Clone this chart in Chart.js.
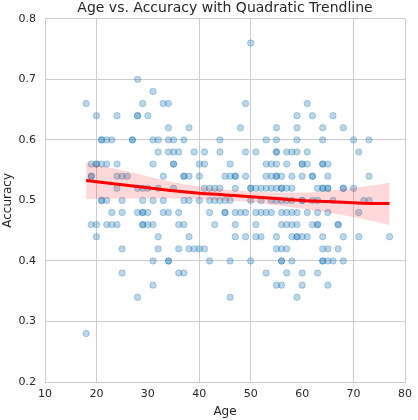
<!DOCTYPE html>
<html>
<head>
<meta charset="utf-8">
<script src="https://cdn.jsdelivr.net/npm/chart.js@4/dist/chart.umd.min.js"></script>
<style>
  html, body { margin: 0; padding: 0; background: #ffffff; }
  #wrap { width: 418px; height: 420px; }
</style>
</head>
<body>
<div id="wrap"><canvas id="c" width="418" height="420"></canvas></div>
<script>
// ---- data ----
const accuracyLevels = [0.76, 0.70, 0.68, 0.66, 0.64, 0.62, 0.60, 0.58, 0.56, 0.54, 0.52, 0.50, 0.48, 0.46, 0.44, 0.42, 0.40, 0.38, 0.36, 0.34, 0.28];
const agesAtLevel = [
  [50],
  [28],
  [31],
  [18, 29, 33, 34, 49, 61],
  [20, 24, 28, 28, 30, 59, 62, 66],
  [34, 38, 48, 55, 59, 64, 68],
  [21, 21, 22, 23, 27, 27, 31, 32, 34, 35, 37, 44, 53, 55, 59, 64, 70, 73],
  [32, 34, 35, 36, 39, 41, 44, 49, 51, 55, 55, 57, 58, 59, 61, 71],
  [19, 20, 20, 21, 22, 24, 31, 35, 35, 40, 41, 46, 53, 54, 55, 57, 60, 60, 61, 64, 64, 65],
  [19, 19, 24, 25, 26, 33, 37, 37, 38, 40, 45, 46, 47, 47, 49, 53, 54, 55, 55, 56, 58, 60, 62, 62, 65, 73],
  [24, 28, 29, 30, 32, 35, 41, 42, 43, 44, 47, 50, 50, 51, 52, 53, 54, 55, 56, 56, 57, 58, 63, 64, 64, 65, 65, 68, 68, 70],
  [21, 21, 22, 25, 29, 31, 33, 37, 38, 40, 42, 43, 44, 45, 46, 50, 52, 54, 55, 56, 57, 58, 60, 60, 62, 63, 66, 72, 73],
  [23, 25, 28, 29, 29, 30, 33, 34, 36, 42, 45, 45, 47, 48, 49, 51, 52, 53, 54, 56, 57, 58, 59, 61, 63, 65, 71],
  [19, 20, 22, 23, 24, 29, 29, 30, 31, 36, 37, 43, 47, 51, 56, 57, 58, 59, 62, 63, 63, 67, 67],
  [20, 32, 38, 47, 49, 51, 52, 55, 58, 59, 59, 60, 61, 64, 68, 71, 77],
  [25, 32, 36, 38, 39, 40, 41, 55, 56, 57, 64, 65, 67],
  [31, 34, 34, 42, 46, 50, 56, 56, 58, 64, 64, 65, 66, 68],
  [25, 36, 37, 53, 57, 60, 63],
  [31, 55, 56, 60, 65],
  [28, 46, 59],
  [18]
];

const trendAges = [18, 25, 30, 35, 40, 45, 50, 55, 60, 65, 70, 74, 77];
const trendFit  = [0.533, 0.526, 0.521, 0.516, 0.512, 0.509, 0.506, 0.503, 0.500, 0.498, 0.496, 0.495, 0.495];
const bandHigh  = [0.563, 0.550, 0.540, 0.530, 0.523, 0.518, 0.515, 0.513, 0.513, 0.516, 0.521, 0.525, 0.529];
const bandLow   = [0.502, 0.503, 0.503, 0.503, 0.502, 0.500, 0.497, 0.492, 0.486, 0.480, 0.472, 0.465, 0.459];

const xTicks = [10, 20, 30, 40, 50, 60, 70, 80];
const yTicks = [0.2, 0.3, 0.4, 0.5, 0.6, 0.7, 0.8];
const xGridHidden = [30, 60];
const yGridHidden = [0.5];

// ---- build library datasets ----
const scatterPoints = [];
accuracyLevels.forEach((acc, i) => {
  agesAtLevel[i].forEach(a => scatterPoints.push({ x: a, y: acc }));
});
const toXY = (arr) => trendAges.map((a, i) => ({ x: a, y: arr[i] }));

const FONT = "'DejaVu Sans', sans-serif";
const TXT = '#262626';
const GRID = '#cccccc';

// centre the title over the plotting area (as in the reference)
const titleOverArea = {
  id: 'titleOverArea',
  afterLayout(chart) {
    if (chart.titleBlock) {
      chart.titleBlock.left = chart.chartArea.left;
      chart.titleBlock.right = chart.chartArea.right;
      chart.titleBlock.width = chart.chartArea.right - chart.chartArea.left;
    }
  }
};

new Chart(document.getElementById('c'), {
  type: 'scatter',
  plugins: [titleOverArea],
  data: {
    datasets: [
      {
        type: 'line', data: toXY(trendFit), order: 0,
        borderColor: '#ff0000', borderWidth: 3, pointRadius: 0,
        cubicInterpolationMode: 'monotone', fill: false
      },
      {
        type: 'line', data: toXY(bandLow), order: 1,
        borderWidth: 0, borderColor: 'rgba(0,0,0,0)', pointRadius: 0,
        cubicInterpolationMode: 'monotone', fill: false
      },
      {
        type: 'line', data: toXY(bandHigh), order: 1,
        borderWidth: 0, borderColor: 'rgba(0,0,0,0)', pointRadius: 0,
        cubicInterpolationMode: 'monotone', fill: '-1',
        backgroundColor: 'rgba(255,0,0,0.15)'
      },
      {
        data: scatterPoints, order: 3,
        pointRadius: 3.2, borderWidth: 1,
        backgroundColor: 'rgba(31,119,180,0.3)',
        borderColor: 'rgba(31,119,180,0.3)'
      }
    ]
  },
  options: {
    responsive: false,
    animation: false,
    devicePixelRatio: 1,
    layout: { padding: { left: 0, right: 7, top: 0, bottom: 0 } },
    plugins: {
      legend: { display: false },
      tooltip: { enabled: false },
      title: {
        display: true,
        text: 'Age vs. Accuracy with Quadratic Trendline',
        color: TXT,
        font: { family: FONT, size: 14, weight: 'normal', lineHeight: 1.2 },
        padding: { top: 0, bottom: 2 }
      }
    },
    scales: {
      x: {
        type: 'linear', min: 10, max: 80,
        afterBuildTicks: (s) => { s.ticks = xTicks.map(v => ({ value: v })); },
        afterFit: (s) => { s.height = 38; },
        ticks: { color: TXT, font: { family: FONT, size: 11 }, padding: 6, maxRotation: 0,
                 callback: (v) => String(v) },
        grid: {
          drawTicks: false, lineWidth: 1,
          color: (ctx) => (ctx.tick && xGridHidden.includes(ctx.tick.value)) ? 'rgba(0,0,0,0)' : GRID
        },
        border: { display: true, color: GRID, width: 1 },
        title: { display: true, text: 'Age', color: TXT,
                 font: { family: FONT, size: 12, lineHeight: 1.2 }, padding: { top: 0, bottom: 1 } }
      },
      y: {
        type: 'linear', min: 0.2, max: 0.8,
        afterBuildTicks: (s) => { s.ticks = yTicks.map(v => ({ value: v })); },
        afterFit: (s) => { s.width = 45; },
        ticks: { color: TXT, font: { family: FONT, size: 11 }, padding: 9,
                 callback: (v) => Number(v).toFixed(1) },
        grid: {
          drawTicks: false, lineWidth: 1,
          color: (ctx) => (ctx.tick && yGridHidden.some(h => Math.abs(h - ctx.tick.value) < 1e-9)) ? 'rgba(0,0,0,0)' : GRID
        },
        border: { display: true, color: GRID, width: 1 },
        title: { display: true, text: 'Accuracy', color: TXT,
                 font: { family: FONT, size: 12, lineHeight: 1.2 }, padding: { top: 1, bottom: 0 } }
      }
    }
  }
});
</script>
</body>
</html>
